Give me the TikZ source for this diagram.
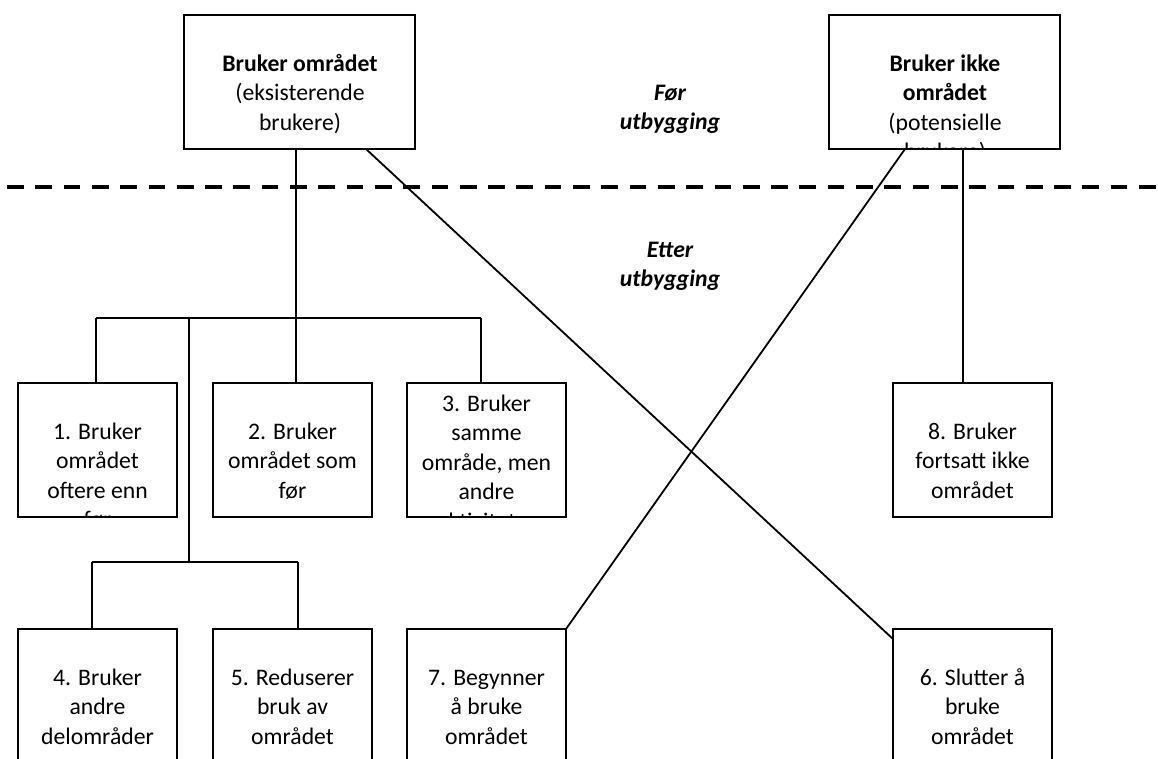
\documentclass[tikz,border=0pt]{standalone}
\usepackage{fontspec}
\setmainfont{Carlito}
\usetikzlibrary{calc}
\begin{document}
\begin{tikzpicture}[x=1pt,y=-1pt,
  box/.style={draw, line width=2pt, inner sep=0pt, outer sep=0pt, anchor=north west, fill=none},
  topbox/.style={box, minimum width=231pt, minimum height=134pt},
  rowbox/.style={box, minimum width=159pt, minimum height=134pt},
  lowbox/.style={box, minimum width=159pt, minimum height=200pt},
  txt/.style={anchor=north, align=center, inner sep=0pt, outer sep=0pt,
    font=\fontsize{23.7}{29.5}\selectfont},
  phase/.style={txt, font=\fontsize{23.7}{29.5}\selectfont\bfseries\itshape},
  conn/.style={line width=1.8pt}]
\clip (0,0) rectangle (1158,758);
\fill[white] (0,0) rectangle (1158,758);

% boxes
\node[topbox] (tl) at (184,15) {};
\node[topbox] (tr) at (829,15) {};
\node[rowbox] (b1) at (18,383) {};
\node[rowbox] (b2) at (213,383) {};
\node[rowbox] (b3) at (407,383) {};
\node[rowbox] (b8) at (893,383) {};
\node[lowbox] (b4) at (18,629) {};
\node[lowbox] (b5) at (213,629) {};
\node[lowbox] (b7) at (407,629) {};
\node[lowbox] (b6) at (893,629) {};

% texts (clipped to their boxes)
\begin{scope}\clip (tl.south west) rectangle (tl.north east);
\node[txt] (ttl) at (300,50.35) {\strut\textbf{Bruker området}\\(eksisterende\\brukere)};
\end{scope}
\begin{scope}\clip (tr.south west) rectangle (tr.north east);
\node[txt] (ttr) at (945,50.35) {\strut\textbf{Bruker ikke}\\\textbf{området}\\(potensielle\\brukere)};
\end{scope}
\begin{scope}\clip (b1.south west) rectangle (b1.north east);
\node[txt] (t1) at (97.5,418.35) {\strut 1. Bruker\\området\\oftere enn\\før};
\end{scope}
\begin{scope}\clip (b2.south west) rectangle (b2.north east);
\node[txt] (t2) at (292.5,418.35) {\strut 2. Bruker\\området som\\før};
\end{scope}
\begin{scope}\clip (b3.south west) rectangle (b3.north east);
\node[txt] (t3) at (486.5,390.35) {\strut 3. Bruker\\samme\\område, men\\andre\\aktiviteter};
\end{scope}
\begin{scope}\clip (b8.south west) rectangle (b8.north east);
\node[txt] (t8) at (972.5,418.35) {\strut 8. Bruker\\fortsatt ikke\\området};
\end{scope}
\begin{scope}\clip (b4.south west) rectangle (b4.north east);
\node[txt] (t4) at (97.5,664.35) {\strut 4. Bruker\\andre\\delområder};
\end{scope}
\begin{scope}\clip (b5.south west) rectangle (b5.north east);
\node[txt] (t5) at (292.5,664.35) {\strut 5. Reduserer\\bruk av\\området};
\end{scope}
\begin{scope}\clip (b7.south west) rectangle (b7.north east);
\node[txt] (t7) at (486.5,664.35) {\strut 7. Begynner\\å bruke\\området};
\end{scope}
\begin{scope}\clip (b6.south west) rectangle (b6.north east);
\node[txt] (t6) at (972.5,664.35) {\strut 6. Slutter å\\bruke\\området};
\end{scope}

% phase labels
\node[phase] (for) at (670,79.35) {\strut Før\\utbygging};
\node[phase] (etter) at (670,236.35) {\strut Etter\\utbygging};

% dashed divider
\coordinate (dL) at (7,187);
\coordinate (dR) at (1158,187);
\draw[line width=4pt, dash pattern=on 16.7pt off 11.6pt] (dL) -- (dR);

% tree connectors
\coordinate (j1) at (296,318);
\coordinate (barL) at (96,318);
\coordinate (barR) at (481,318);
\coordinate (j2) at (189,318);
\coordinate (j3) at (189,562);
\coordinate (sL) at (92,562);
\coordinate (sR) at (298,562);
\draw[conn] (tl.south -| j1) -- (j1);
\draw[conn] (barL) -- (barR);
\draw[conn] (barL) -- (barL |- b1.north);
\draw[conn] (j1) -- (j1 |- b2.north);
\draw[conn] (barR) -- (barR |- b3.north);
\draw[conn] (j2) -- (j3);
\draw[conn] (sL) -- (sR);
\draw[conn] (sL) -- (sL |- b4.north);
\draw[conn] (sR) -- (sR |- b5.north);

% diagonals and right stem
\coordinate (d1) at (366,149);
\coordinate (d2) at (905,149);
\coordinate (r1) at (963,149);
\draw[conn] (d1) -- ([yshift=-10pt]b6.north west);
\draw[conn] (d2) -- (b7.north east);
\draw[conn] (r1) -- (r1 |- b8.north);
\end{tikzpicture}
\end{document}
